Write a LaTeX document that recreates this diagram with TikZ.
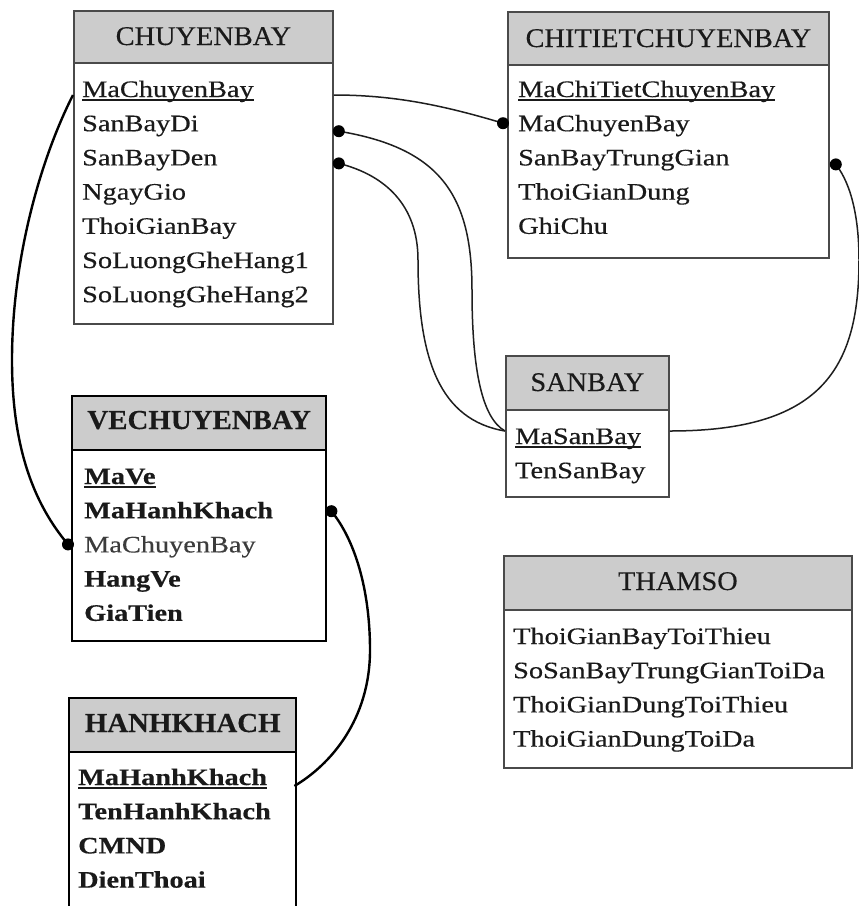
\documentclass[tikz,border=0pt]{standalone}
\usepackage{fontspec}
\newfontfamily\rowfont{Liberation Serif}[FakeStretch=1.2, FakeBold=0.4]
\newfontfamily\headfont{Liberation Serif}[FakeStretch=1.05, FakeBold=0.3]
\usetikzlibrary{calc}

\definecolor{hdrgray}{HTML}{CCCCCC}
\definecolor{boxgray}{HTML}{4A4A4A}
\definecolor{txt}{HTML}{1A1A1A}
\definecolor{softtxt}{HTML}{3C3C3C}
\definecolor{linecol}{HTML}{1E1E1E}

% primary key: text with a rule under it
\newcommand\keyname[1]{\leavevmode\setbox0\hbox{#1}\rlap{\rule[-4pt]{\wd0}{1.6pt}}\box0}

\tikzset{
  hdr/.style={draw=boxgray, fill=hdrgray, line width=1.8pt, anchor=north west, inner sep=0pt},
  body/.style={draw=boxgray, fill=white, line width=1.8pt, anchor=north west, inner sep=0pt},
  hdrbold/.style={hdr, draw=black, line width=2.4pt},
  bodybold/.style={body, draw=black, line width=2.4pt},
  ttl/.style={anchor=base, inner sep=0pt, text=txt, font=\headfont\fontsize{27}{30}\selectfont},
  ttlbold/.style={ttl, font=\headfont\fontsize{27.5}{30}\selectfont\bfseries},
  row/.style={anchor=base west, inner sep=0pt, text=txt, font=\rowfont\fontsize{23.6}{26}\selectfont},
  rowbold/.style={row, font=\rowfont\fontsize{23.6}{26}\selectfont\bfseries},
  rel/.style={line width=1.5pt, draw=linecol},
  relbold/.style={line width=2.4pt, draw=black},
  dot/.style={circle, fill=black, inner sep=0pt, minimum size=12pt},
}

\begin{document}
\begin{tikzpicture}[x=1pt, y=-1pt]
\useasboundingbox[fill=white] (0,0) rectangle (859,906);

% ---------------- CHUYENBAY
\node[hdr, minimum width=259pt, minimum height=52pt] (cbHead) at (73,10) {};
\node[body, minimum width=259pt, minimum height=261pt] (cbBody) at (73,62) {};
\node[ttl] (cbTitle) at ($(cbHead.north)+(0,35)$) {CHUYENBAY};
\node[row] (cbMa)   at (82,97.0)  {\keyname{MaChuyenBay}};
\node[row] (cbDi)   at (82,131.2) {SanBayDi};
\node[row] (cbDen)  at (82,165.4) {SanBayDen};
\node[row] (cbNgay) at (82,199.6) {NgayGio};
\node[row] (cbTG)   at (82,233.8) {ThoiGianBay};
\node[row] (cbSL1)  at (82,268.0) {SoLuongGheHang1};
\node[row] (cbSL2)  at (82,302.2) {SoLuongGheHang2};

% ---------------- CHITIETCHUYENBAY
\node[hdr, minimum width=321pt, minimum height=53pt] (ctHead) at (507,11) {};
\node[body, minimum width=321pt, minimum height=193pt] (ctBody) at (507,64) {};
\node[ttl] (ctTitle) at ($(ctHead.north)+(0,36)$) {CHITIETCHUYENBAY};
\node[row] (ctMa)   at (518,97.0)  {\keyname{MaChiTietChuyenBay}};
\node[row] (ctMaCB) at (518,131.2) {MaChuyenBay};
\node[row] (ctSBTG) at (518,165.4) {SanBayTrungGian};
\node[row] (ctTGD)  at (518,199.6) {ThoiGianDung};
\node[row] (ctGC)   at (518,233.8) {GhiChu};

% ---------------- SANBAY
\node[hdr, minimum width=163pt, minimum height=54pt] (sbHead) at (505,355) {};
\node[body, minimum width=163pt, minimum height=87pt] (sbBody) at (505,409) {};
\node[ttl] (sbTitle) at ($(sbHead.north)+(0,36)$) {SANBAY};
\node[row] (sbMa)  at (515,444.0) {\keyname{MaSanBay}};
\node[row] (sbTen) at (515,478.2) {TenSanBay};

% ---------------- VECHUYENBAY
\node[hdrbold, minimum width=254pt, minimum height=54pt] (veHead) at (71,395) {};
\node[bodybold, minimum width=254pt, minimum height=191pt] (veBody) at (71,449) {};
\node[ttlbold] (veTitle) at ($(veHead.north)+(0,34)$) {VECHUYENBAY};
\node[rowbold] (veMaVe) at (84,484.0) {\keyname{MaVe}};
\node[rowbold] (veMaHK) at (84,518.2) {MaHanhKhach};
\node[row, text=softtxt] (veMaCB) at (84,552.4) {MaChuyenBay};
\node[rowbold] (veHang) at (84,586.6) {HangVe};
\node[rowbold] (veGia)  at (84,620.8) {GiaTien};

% ---------------- HANHKHACH (runs past the lower edge)
\node[hdrbold, minimum width=227pt, minimum height=54pt] (hkHead) at (68,697) {};
\node[bodybold, minimum width=227pt, minimum height=180pt] (hkBody) at (68,751) {};
\node[ttlbold] (hkTitle) at ($(hkHead.north)+(0,35)$) {HANHKHACH};
\node[rowbold] (hkMa)   at (78,785.0) {\keyname{MaHanhKhach}};
\node[rowbold] (hkTen)  at (78,819.2) {TenHanhKhach};
\node[rowbold] (hkCMND) at (78,853.4) {CMND};
\node[rowbold] (hkDT)   at (78,887.6) {DienThoai};

% ---------------- THAMSO
\node[hdr, minimum width=348pt, minimum height=54pt] (tsHead) at (503,555) {};
\node[body, minimum width=348pt, minimum height=158pt] (tsBody) at (503,609) {};
\node[ttl] (tsTitle) at ($(tsHead.north)+(0,35)$) {THAMSO};
\node[row] (tsA) at (513,644.0) {ThoiGianBayToiThieu};
\node[row] (tsB) at (513,678.2) {SoSanBayTrungGianToiDa};
\node[row] (tsC) at (513,712.4) {ThoiGianDungToiThieu};
\node[row] (tsD) at (513,746.6) {ThoiGianDungToiDa};

% ---------------- relationship ends
\coordinate (cbMaR) at ($(cbBody.east|-cbMa.base)+(0,-2)$);
\coordinate (cbMaL) at ($(cbBody.west|-cbMa.base)+(0,-2)$);
\coordinate (sbMaL) at ($(sbBody.west|-sbMa.base)+(0,-13)$);
\coordinate (sbMaR) at ($(sbBody.east|-sbMa.base)+(0,-13)$);
\coordinate (hkMaR) at ($(hkBody.east|-hkMa.base)+(-3,1)$);

% ---------------- relationships
\draw[rel] (cbMaR) .. controls +(60,0) and +(-60,-18) .. ($(ctBody.west|-ctMaCB.base)+(-4,-8)$) coordinate (pCtMaCB);
\draw[rel] ($(cbBody.east|-cbDi.base)+(5,0)$) coordinate (pCbDi)
           .. controls (440,148) and (472,195) .. (472,290)
           .. controls (472,370) and (482,418) .. (sbMaL);
\draw[rel] ($(cbBody.east|-cbDen.base)+(5,-2)$) coordinate (pCbDen)
           .. controls (385,175) and (418,205) .. (418,260)
           .. controls (418,360) and (440,420) .. (sbMaL);
\draw[rel] ($(ctBody.east|-ctSBTG.base)+(6,-1)$) coordinate (pCtSBTG)
           .. controls (852,185) and (859,220) .. (859,260)
           .. controls (859,370) and (820,431) .. (sbMaR);
\draw[relbold] (cbMaL) .. controls (40,160) and (12,260) .. (12,360)
           .. controls (12,450) and (35,505) .. ($(veBody.west|-veMaCB.base)+(-3,-8)$) coordinate (pVeMaCB);
\draw[relbold] ($(veBody.east|-veMaHK.base)+(4,-7)$) coordinate (pVeMaHK)
           .. controls (355,540) and (370,590) .. (370,650)
           .. controls (370,720) and (330,765) .. (hkMaR);

% dots at the foreign-key ends
\node[dot] (dCtMaCB) at (pCtMaCB) {};
\node[dot] (dCbDi)   at (pCbDi) {};
\node[dot] (dCbDen)  at (pCbDen) {};
\node[dot] (dCtSBTG) at (pCtSBTG) {};
\node[dot] (dVeMaCB) at (pVeMaCB) {};
\node[dot] (dVeMaHK) at (pVeMaHK) {};
\end{tikzpicture}
\end{document}
